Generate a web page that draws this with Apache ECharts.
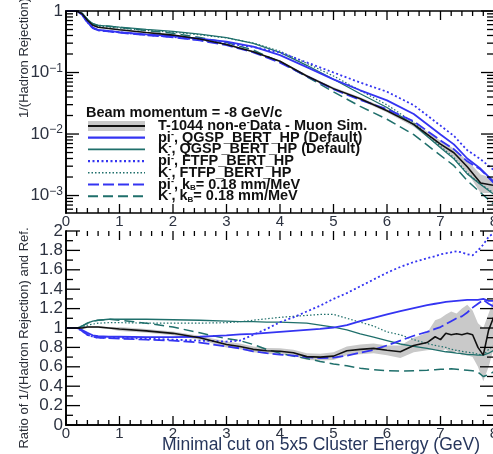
<!DOCTYPE html>
<html>
<head>
<meta charset="utf-8">
<script src="https://cdn.jsdelivr.net/npm/echarts@6/dist/echarts.min.js"></script>
<style>
  html, body { margin: 0; padding: 0; background: #fff; }
  #chart { width: 493px; height: 454px; }
</style>
</head>
<body>
<div id="chart"></div>
<script>
// ---- upper panel: 1/(hadron rejection) versus cut energy ----
const xTop = [0, 0.2, 0.3, 0.4, 0.5, 0.6, 0.8, 1, 1.5, 2, 2.5, 3, 3.5, 4, 4.5, 5, 5.5, 6, 6.5, 7, 7.25, 7.5, 7.75, 8];
const dataTop   = [1, 1, 0.9, 0.707, 0.586, 0.545, 0.52, 0.495, 0.446, 0.406, 0.351, 0.286, 0.218, 0.152, 0.088, 0.0547, 0.0374, 0.0239, 0.01435, 0.00686, 0.00496, 0.00293, 0.0016, 0.00146];
const bandTopHi = [1, 1, 0.91, 0.72, 0.595, 0.553, 0.528, 0.503, 0.454, 0.414, 0.358, 0.293, 0.224, 0.157, 0.092, 0.0575, 0.0395, 0.0255, 0.0157, 0.0078, 0.0058, 0.0037, 0.0022, 0.0019];
const bandTopLo = [1, 1, 0.89, 0.695, 0.577, 0.537, 0.512, 0.487, 0.438, 0.398, 0.344, 0.279, 0.212, 0.147, 0.084, 0.052, 0.0353, 0.0223, 0.0131, 0.006, 0.0042, 0.0024, 0.0011, 0.0011];
const piQgspTop = [1, 1, 0.882, 0.665, 0.537, 0.494, 0.473, 0.455, 0.416, 0.389, 0.355, 0.319, 0.263, 0.192, 0.1225, 0.0774, 0.0514, 0.0353, 0.0211, 0.00983, 0.00678, 0.004, 0.00272, 0.00166];
const kQgspTop  = [1, 1, 0.918, 0.735, 0.621, 0.583, 0.567, 0.545, 0.501, 0.467, 0.421, 0.369, 0.298, 0.212, 0.131, 0.0778, 0.0451, 0.027, 0.0142, 0.00597, 0.00396, 0.00225, 0.00151, 0.00104];
const piFtfpTop = [1, 1, 0.873, 0.651, 0.528, 0.486, 0.468, 0.45, 0.409, 0.378, 0.339, 0.297, 0.26, 0.212, 0.146, 0.1, 0.0686, 0.0487, 0.0294, 0.0137, 0.00933, 0.00546, 0.00389, 0.00257];
const kFtfpTop  = [1, 1, 0.909, 0.721, 0.603, 0.567, 0.549, 0.528, 0.483, 0.452, 0.41, 0.364, 0.302, 0.222, 0.141, 0.0878, 0.0509, 0.0298, 0.0154, 0.00632, 0.00414, 0.00233, 0.00153, 0.0011];
const piKbTop   = [1, 1, 0.873, 0.651, 0.528, 0.486, 0.465, 0.445, 0.405, 0.374, 0.332, 0.279, 0.213, 0.145, 0.0875, 0.0535, 0.0358, 0.0254, 0.0161, 0.00788, 0.00568, 0.0036, 0.00265, 0.00159];
const kKbTop    = [1, 1, 0.918, 0.735, 0.621, 0.583, 0.567, 0.54, 0.483, 0.434, 0.371, 0.307, 0.232, 0.148, 0.0856, 0.0485, 0.0281, 0.0174, 0.0098, 0.00449, 0.00306, 0.00175, 0.00111, 0.000715];

// ---- lower panel: ratio to reference ----
const xRatio = [0, 0.2, 0.3, 0.4, 0.5, 0.6, 0.8, 1, 1.5, 2, 2.5, 3, 3.25, 3.5, 3.75, 4, 4.25, 4.5, 4.75, 5, 5.25, 5.5, 5.75, 6, 6.25, 6.5, 6.75, 6.9, 7, 7.1, 7.2, 7.3, 7.4, 7.5, 7.6, 7.7, 7.8, 7.9, 8];
const dataRatio   = [1, 1, 1, 1.01, 1.01, 1.01, 1, 0.99, 0.97, 0.945, 0.9, 0.83, 0.81, 0.78, 0.765, 0.76, 0.745, 0.705, 0.7, 0.71, 0.765, 0.78, 0.79, 0.77, 0.755, 0.82, 0.85, 0.91, 0.88, 0.945, 0.93, 0.94, 0.93, 0.945, 0.93, 0.8, 0.72, 0.98, 1.12];
const bandRatioHi = [1.01, 1.01, 1.01, 1.02, 1.02, 1.02, 1.01, 1.01, 0.99, 0.965, 0.92, 0.86, 0.84, 0.81, 0.795, 0.79, 0.775, 0.74, 0.735, 0.75, 0.81, 0.83, 0.84, 0.82, 0.82, 0.9, 0.95, 1.08, 1.1, 1.14, 1.17, 1.15, 1.2, 1.24, 1.18, 1.05, 1.0, 1.15, 1.3];
const bandRatioLo = [0.99, 0.99, 0.99, 1.0, 1.0, 1.0, 0.99, 0.97, 0.95, 0.925, 0.88, 0.8, 0.78, 0.75, 0.735, 0.73, 0.715, 0.67, 0.665, 0.67, 0.72, 0.73, 0.74, 0.72, 0.69, 0.75, 0.77, 0.78, 0.76, 0.78, 0.74, 0.76, 0.72, 0.72, 0.7, 0.6, 0.45, 0.6, 0.8];
const piQgspRatio = [1, 1, 0.98, 0.95, 0.925, 0.915, 0.91, 0.91, 0.905, 0.905, 0.91, 0.925, 0.935, 0.94, 0.95, 0.96, 0.97, 0.98, 0.99, 1.005, 1.03, 1.07, 1.105, 1.14, 1.175, 1.205, 1.235, 1.25, 1.26, 1.27, 1.275, 1.28, 1.285, 1.29, 1.29, 1.29, 1.3, 1.28, 1.28];
const kQgspRatio  = [1, 1, 1.02, 1.05, 1.07, 1.08, 1.09, 1.09, 1.09, 1.085, 1.08, 1.07, 1.065, 1.065, 1.06, 1.06, 1.055, 1.05, 1.03, 1.01, 0.98, 0.94, 0.905, 0.87, 0.835, 0.81, 0.79, 0.775, 0.765, 0.755, 0.75, 0.74, 0.735, 0.725, 0.725, 0.72, 0.72, 0.74, 0.77];
const piFtfpRatio = [1, 1, 0.97, 0.93, 0.91, 0.9, 0.9, 0.9, 0.89, 0.88, 0.87, 0.86, 0.87, 0.93, 0.99, 1.06, 1.11, 1.17, 1.23, 1.3, 1.36, 1.43, 1.5, 1.57, 1.63, 1.68, 1.72, 1.74, 1.76, 1.77, 1.78, 1.79, 1.78, 1.76, 1.75, 1.8, 1.86, 1.94, 1.98];
const kFtfpRatio  = [1, 1, 1.01, 1.03, 1.04, 1.05, 1.055, 1.055, 1.05, 1.05, 1.05, 1.055, 1.065, 1.08, 1.095, 1.11, 1.12, 1.13, 1.14, 1.14, 1.1, 1.06, 1.02, 0.96, 0.93, 0.88, 0.84, 0.82, 0.81, 0.8, 0.78, 0.77, 0.76, 0.75, 0.745, 0.73, 0.72, 0.78, 0.82];
const piKbRatio   = [1, 1, 0.97, 0.93, 0.91, 0.9, 0.895, 0.89, 0.88, 0.87, 0.85, 0.81, 0.79, 0.76, 0.74, 0.725, 0.715, 0.7, 0.69, 0.695, 0.715, 0.745, 0.775, 0.82, 0.87, 0.92, 0.96, 0.99, 1.01, 1.04, 1.07, 1.1, 1.12, 1.16, 1.21, 1.25, 1.29, 1.25, 1.22];
const kKbRatio    = [1, 1, 1.02, 1.05, 1.07, 1.08, 1.09, 1.08, 1.05, 1.01, 0.95, 0.89, 0.87, 0.83, 0.78, 0.74, 0.71, 0.685, 0.655, 0.63, 0.61, 0.585, 0.57, 0.56, 0.555, 0.56, 0.565, 0.57, 0.575, 0.575, 0.58, 0.575, 0.57, 0.565, 0.56, 0.545, 0.5, 0.52, 0.55];

// ---- axis ranges and tick values ----
const xMajorTicks = [0, 1, 2, 3, 4, 5, 6, 7, 8];
const logMin = 0.00052, logMax = 1;
const logMajorTicks = [0.001, 0.01, 0.1, 1];
const logMinorTicks = [0.0006, 0.0007, 0.0008, 0.0009,
  0.002, 0.003, 0.004, 0.005, 0.006, 0.007, 0.008, 0.009,
  0.02, 0.03, 0.04, 0.05, 0.06, 0.07, 0.08, 0.09,
  0.2, 0.3, 0.4, 0.5, 0.6, 0.7, 0.8, 0.9];
const ratioMin = 0, ratioMax = 2;
const ratioMajorTicks = [0, 0.2, 0.4, 0.6, 0.8, 1, 1.2, 1.4, 1.6, 1.8, 2];

// ---- legend text ----
const legendTitle = 'Beam momentum = -8 GeV/c';
const legendLabels = [
  '{b|T-1044 non-e}{sup|-}{b|Data - Muon Sim.}',
  '{b|pi}{sup|-}{b|, QGSP_BERT_HP (Default)}',
  '{b|K}{sup|-}{b|, QGSP_BERT_HP (Default)}',
  '{b|pi}{sup|-}{b|, FTFP_BERT_HP}',
  '{b|K}{sup|-}{b|, FTFP_BERT_HP}',
  '{b|pi}{sup|-}{b|, k}{sub|B}{b|= 0.18 mm/MeV}',
  '{b|K}{sup|-}{b|, k}{sub|B}{b|= 0.18 mm/MeV}'
];

const FONT = 'Liberation Sans, Arial, Helvetica, sans-serif';
const BLUE = '#3434f2';
const TEAL = '#1f6f6b';
const LABEL = '#2c3240';

const lineStyles = {
  data:   { color: '#111111', width: 1.6, type: 'solid' },
  piQgsp: { color: BLUE, width: 1.8, type: 'solid' },
  kQgsp:  { color: TEAL, width: 1.3, type: 'solid' },
  piFtfp: { color: BLUE, width: 1.8, type: [2, 2.5] },
  kFtfp:  { color: TEAL, width: 1.2, type: [1.5, 2] },
  piKb:   { color: BLUE, width: 1.8, type: [11, 4] },
  kKb:    { color: TEAL, width: 1.5, type: [10, 5] }
};

const zip = (xs, ys) => xs.map((x, i) => [x, ys[i]]);

function lineSeries(name, xs, ys, styleKey, panel, z) {
  return {
    name, type: 'line', xAxisIndex: panel * 2, yAxisIndex: panel * 2,
    data: zip(xs, ys), showSymbol: false, symbol: 'none', smooth: false,
    lineStyle: Object.assign({}, lineStyles[styleKey]), z: z || 3,
    silent: true, animation: false
  };
}

// shaded uncertainty band drawn as one polygon through the axis scales
function bandSeries(xs, lo, hi, panel) {
  return {
    type: 'custom', xAxisIndex: panel * 2, yAxisIndex: panel * 2,
    data: [[xs[0], hi[0]]], silent: true, z: 1, clip: true,
    renderItem: (params, api) => {
      const pts = [];
      for (let i = 0; i < xs.length; i++) pts.push(api.coord([xs[i], hi[i]]));
      for (let i = xs.length - 1; i >= 0; i--) pts.push(api.coord([xs[i], lo[i]]));
      return { type: 'polygon', shape: { points: pts }, style: { fill: '#c9c9c9', stroke: null } };
    }
  };
}

// inward-pointing ticks on all four frame edges of one panel
function frameTickSeries(panel, yLo, yHi, yMajor, yMinor, yMajLen, yMinLen) {
  const xMinor = [];
  for (let i = 0; i < xMajorTicks.length - 1; i++) {
    for (let k = 1; k < 5; k++) xMinor.push(xMajorTicks[i] + k * (xMajorTicks[i + 1] - xMajorTicks[i]) / 5);
  }
  const x0 = xMajorTicks[0], x1 = xMajorTicks[xMajorTicks.length - 1];
  return {
    type: 'custom', xAxisIndex: panel * 2, yAxisIndex: panel * 2, silent: true, z: 10, clip: false,
    data: [[x0, yHi]],
    renderItem: (params, api) => {
      const kids = [];
      const st = { stroke: '#000', lineWidth: 1.3 };
      const seg = (a, b) => kids.push({ type: 'line', shape: { x1: a[0], y1: a[1], x2: b[0], y2: b[1] }, style: st });
      const vx = (x, len) => {
        const b = api.coord([x, yLo]), t = api.coord([x, yHi]);
        seg(b, [b[0], b[1] - len]);
        seg(t, [t[0], t[1] + len]);
      };
      const hy = (y, len) => {
        const l = api.coord([x0, y]), r = api.coord([x1, y]);
        seg(l, [l[0] + len, l[1]]);
        seg(r, [r[0] - len, r[1]]);
      };
      xMajorTicks.forEach(x => vx(x, 9));
      xMinor.forEach(x => vx(x, 5));
      yMajor.forEach(y => hy(y, yMajLen));
      yMinor.forEach(y => hy(y, yMinLen));
      return { type: 'group', children: kids };
    }
  };
}

const ratioMinorTicks = ratioMajorTicks.slice(0, -1).map((v, i) => (v + ratioMajorTicks[i + 1]) / 2);

const axisLine = { show: true, lineStyle: { color: '#000', width: 1.6 } };
const xLabelText = { fontFamily: FONT, fontSize: 15, color: LABEL };
const yLabelText = { fontFamily: FONT, fontSize: 17, color: LABEL };

function xAxisDef(grid, pos, showLabel, margin) {
  return {
    gridIndex: grid, type: 'value', min: xMajorTicks[0], max: xMajorTicks[xMajorTicks.length - 1], interval: 1,
    position: pos, axisLine, axisTick: { show: false }, minorTick: { show: false },
    axisLabel: Object.assign({ show: showLabel, margin, formatter: v => String(v), hideOverlap: false }, xLabelText),
    splitLine: { show: false }, minorSplitLine: { show: false }
  };
}

const supRich = {
  b: { fontFamily: FONT, fontSize: 17, color: LABEL, lineHeight: 20 },
  sup: { fontFamily: FONT, fontSize: 12, color: LABEL, lineHeight: 12, verticalAlign: 'top' }
};

function logLabel(v) {
  const e = Math.log10(v);
  if (Math.abs(e - Math.round(e)) > 1e-6) return '';
  const n = Math.round(e);
  if (n === 0) return '{b|1}';
  return '{b|10}{sup|\u2212' + Math.abs(n) + '}';
}

const option = {
  animation: false,
  backgroundColor: '#ffffff',
  grid: [
    { left: 66, top: 11, right: -1, height: 202, containLabel: false, outerBoundsMode: 'none' },
    { left: 66, top: 231, right: -1, height: 194, containLabel: false, outerBoundsMode: 'none' }
  ],
  xAxis: [
    xAxisDef(0, 'bottom', true, 1),
    xAxisDef(0, 'top', false, 1),
    xAxisDef(1, 'bottom', true, 1),
    xAxisDef(1, 'top', false, 1)
  ],
  yAxis: [
    {
      gridIndex: 0, type: 'log', logBase: 10, min: logMin, max: logMax, position: 'left', axisLine,
      axisTick: { show: false }, minorTick: { show: false },
      axisLabel: { margin: 3, formatter: logLabel, rich: supRich },
      splitLine: { show: false }
    },
    {
      gridIndex: 0, type: 'log', logBase: 10, min: logMin, max: logMax, position: 'right', axisLine,
      axisTick: { show: false }, minorTick: { show: false }, axisLabel: { show: false }, splitLine: { show: false }
    },
    {
      gridIndex: 1, type: 'value', min: ratioMin, max: ratioMax, interval: 0.2, position: 'left', axisLine,
      axisTick: { show: false }, minorTick: { show: false },
      axisLabel: Object.assign({ margin: 3, formatter: v => String(Math.round(v * 10) / 10) }, yLabelText),
      splitLine: { show: false }, minorSplitLine: { show: false }
    },
    {
      gridIndex: 1, type: 'value', min: ratioMin, max: ratioMax, interval: 0.2, position: 'right', axisLine,
      axisTick: { show: false }, minorTick: { show: false },
      axisLabel: { show: false }, splitLine: { show: false }, minorSplitLine: { show: false }
    }
  ],
  series: [
    bandSeries(xTop, bandTopLo, bandTopHi, 0),
    lineSeries('data', xTop, dataTop, 'data', 0, 4),
    lineSeries('kKb', xTop, kKbTop, 'kKb', 0),
    lineSeries('kFtfp', xTop, kFtfpTop, 'kFtfp', 0),
    lineSeries('kQgsp', xTop, kQgspTop, 'kQgsp', 0),
    lineSeries('piKb', xTop, piKbTop, 'piKb', 0),
    lineSeries('piFtfp', xTop, piFtfpTop, 'piFtfp', 0),
    lineSeries('piQgsp', xTop, piQgspTop, 'piQgsp', 0),
    frameTickSeries(0, logMin, logMax, logMajorTicks, logMinorTicks, 13, 7),
    bandSeries(xRatio, bandRatioLo, bandRatioHi, 1),
    lineSeries('dataR', xRatio, dataRatio, 'data', 1, 4),
    lineSeries('kKbR', xRatio, kKbRatio, 'kKb', 1),
    lineSeries('kFtfpR', xRatio, kFtfpRatio, 'kFtfp', 1),
    lineSeries('kQgspR', xRatio, kQgspRatio, 'kQgsp', 1),
    lineSeries('piKbR', xRatio, piKbRatio, 'piKb', 1),
    lineSeries('piFtfpR', xRatio, piFtfpRatio, 'piFtfp', 1),
    lineSeries('piQgspR', xRatio, piQgspRatio, 'piQgsp', 1),
    frameTickSeries(1, ratioMin, ratioMax, ratioMajorTicks, ratioMinorTicks, 14, 7)
  ]
};

// ---- legend block and axis titles ----
const legendKeys = ['data', 'piQgsp', 'kQgsp', 'piFtfp', 'kFtfp', 'piKb', 'kKb'];
const legRich = {
  b: { fontFamily: FONT, fontSize: 14.5, fontWeight: 'bold', fill: '#111', lineHeight: 15 },
  sup: { fontFamily: FONT, fontSize: 9, fontWeight: 'bold', fill: '#111', lineHeight: 9, verticalAlign: 'top' },
  sub: { fontFamily: FONT, fontSize: 8, fontWeight: 'bold', fill: '#111', lineHeight: 8, verticalAlign: 'bottom' }
};
const legX0 = 88, legX1 = 145, legTextX = 158, legY0 = 126, legDy = 11.7;
const graphics = [];
graphics.push({
  type: 'text', silent: true, x: 86, y: 113,
  style: { text: legendTitle, font: 'bold 14.5px ' + FONT, fill: '#111', verticalAlign: 'middle' }
});
legendKeys.forEach((key, i) => {
  const y = legY0 + i * legDy;
  const ls = lineStyles[key];
  if (key === 'data') {
    graphics.push({ type: 'rect', silent: true, shape: { x: legX0, y: y - 5, width: legX1 - legX0, height: 10 },
      style: { fill: '#c9c9c9' } });
  }
  graphics.push({ type: 'line', silent: true,
    shape: { x1: legX0, y1: y, x2: legX1, y2: y },
    style: { stroke: ls.color, lineWidth: key === 'data' ? 2 : ls.width + 0.4, lineDash: Array.isArray(ls.type) ? ls.type : null } });
  graphics.push({ type: 'text', silent: true, x: legTextX, y: y,
    style: { text: legendLabels[i], rich: legRich, verticalAlign: 'middle', align: 'left' } });
});
graphics.push({ type: 'text', silent: true, x: 24, y: 58, rotation: Math.PI / 2,
  style: { text: '1/(Hadron Rejection)', font: '13px ' + FONT, fill: '#2b2f38', align: 'center', verticalAlign: 'middle' } });
graphics.push({ type: 'text', silent: true, x: 24, y: 338, rotation: Math.PI / 2,
  style: { text: 'Ratio of 1/(Hadron Rejection) and Ref.', font: '13px ' + FONT, fill: '#2b2f38', align: 'center', verticalAlign: 'middle' } });
graphics.push({ type: 'text', silent: true, x: 480, y: 445,
  style: { text: 'Minimal cut on 5x5 Cluster Energy (GeV)', font: '17.5px ' + FONT, fill: '#27365c', align: 'right', verticalAlign: 'middle' } });
option.graphic = graphics;

const chart = echarts.init(document.getElementById('chart'), null, { renderer: 'canvas' });
chart.setOption(option);
</script>
</body>
</html>
